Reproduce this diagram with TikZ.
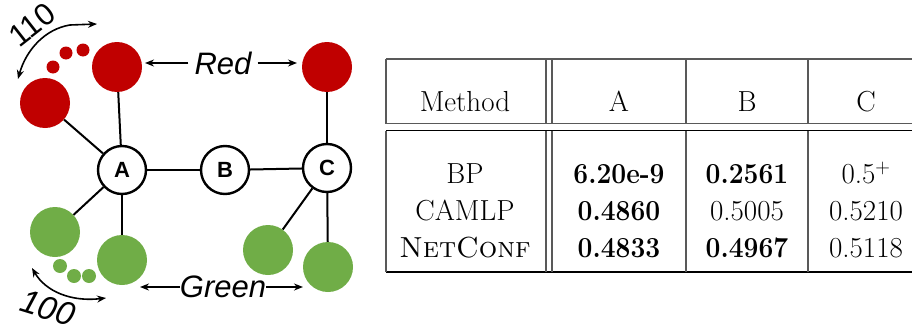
\documentclass[tikz,border=0pt]{standalone}
\usepackage{fontspec}
\newfontfamily\diagfont{Liberation Sans}
\usetikzlibrary{arrows.meta,calc}
\definecolor{nodered}{RGB}{192,0,0}
\definecolor{nodegreen}{RGB}{112,173,71}
\newcommand\boldval[1]{\scalebox{0.91}[1]{\textbf{#1}}}
\begin{document}
\begin{tikzpicture}[x=1pt,y=-1pt,
  hub/.style={circle,draw,line width=2.4pt,fill=white,minimum size=48pt,inner sep=0pt,
    font=\diagfont\bfseries\fontsize{22}{22}\selectfont},
  redball/.style={circle,fill=nodered,minimum size=50pt,inner sep=0pt},
  greenball/.style={circle,fill=nodegreen,minimum size=50pt,inner sep=0pt},
  reddot/.style={circle,fill=nodered,minimum size=13pt,inner sep=0pt},
  greendot/.style={circle,fill=nodegreen,minimum size=14pt,inner sep=0pt},
  link/.style={line width=2pt},
  pointer/.style={line width=1.6pt,-{Stealth[length=9pt,width=7pt]}},
  both/.style={line width=1.6pt,{Stealth[length=9pt,width=7pt]}-{Stealth[length=9pt,width=7pt]}},
  label/.style={inner sep=0pt,font=\diagfont\itshape\fontsize{31}{31}\selectfont},
  count/.style={inner sep=0pt,font=\diagfont\fontsize{31}{31}\selectfont},
  rulegray/.style={line width=1.5pt,black!65},
  ruleblack/.style={line width=1.3pt,black},
  cell/.style={anchor=base,inner sep=0pt,font=\fontsize{29}{29}\selectfont}]
\useasboundingbox (0,0) rectangle (912,332);

% ---------- graph ----------
\node[hub] (A) at (122,170) {A};
\node[hub] (B) at (225,170) {B};
\node[hub] (C) at (327,168) {C};

\node[redball] (RA) at (117,67) {};
\node[redball] (RL) at (45,103) {};
\node[redball] (RC) at (327,67) {};
\node[reddot] (rd1) at (53,67) {};
\node[reddot] (rd2) at (66,53) {};
\node[reddot] (rd3) at (83,50) {};

\node[greenball] (GL) at (55,232) {};
\node[greenball] (GA) at (122,260) {};
\node[greenball] (GC1) at (268,250) {};
\node[greenball] (GC2) at (328,267) {};
\node[greendot] (gd1) at (60,266) {};
\node[greendot] (gd2) at (74,276) {};
\node[greendot] (gd3) at (89,276) {};

\draw[link] (A) -- (B);
\draw[link] (B) -- (C);
\draw[link] (A) -- (RA);
\draw[link] (A) -- (RL);
\draw[link] (A) -- (GL);
\draw[link] (A) -- (GA);
\draw[link] (C) -- (RC);
\draw[link] (C) -- (GC1);
\draw[link] (C) -- (GC2);

% class labels with arrows
\node[label,inner xsep=6pt] (red) at (223,63) {Red};
\coordinate (redL) at (145,63);
\coordinate (redR) at (297,63);
\draw[pointer] (red.west) -- (redL);
\draw[pointer] (red.east) -- (redR);

\node[label] (green) at (223,287) {Green};
\coordinate (greenL) at (140,287);
\coordinate (greenR) at (303,287);
\draw[pointer] (green.west) -- (greenL);
\draw[pointer] (green.east) -- (greenR);

% neighbour counts
\node[count,rotate=38] (n110) at (32,25) {110};
\coordinate (u1) at (18,79);
\coordinate (u2) at (70,25);
\coordinate (u3) at (97,24);
\draw[both] (u1) .. controls (26,50) and (45,29) .. (u2) -- (u3);

\node[count,rotate=-17,font=\diagfont\itshape\fontsize{33}{33}\selectfont] (n100) at (48,308) {100};
\coordinate (l1) at (32,268);
\coordinate (l2) at (106,298);
\draw[both] (l1) .. controls (46,292) and (72,302) .. (l2);

% ---------- table ----------
\draw[rulegray] (386,59) -- (912,59);
\draw[rulegray] (386,123.5) -- (912,123.5);
\foreach \x in {386,546,552,686,808}
  \draw[rulegray] (\x,59) -- (\x,123.5);
\draw[ruleblack] (386,130.5) -- (912,130.5);
\draw[ruleblack] (386,272) -- (912,272);
\foreach \x in {386,546,552,686,808}
  \draw[rulegray] (\x,130.5) -- (\x,272);

\node[cell] (hm) at (465,111) {Method};
\node[cell] (ha) at (619,111) {A};
\node[cell] (hb) at (747,111) {B};
\node[cell] (hc) at (866,111) {C};

\node[cell] (m1) at (465,183) {BP};
\node[cell] (a1) at (619,183) {\boldval{6.20e-9}};
\node[cell] (b1) at (747,183) {\boldval{0.2561}};
\node[cell] (c1) at (866,183) {0.5\textsuperscript{+}};

\node[cell] (m2) at (465,220) {CAMLP};
\node[cell] (a2) at (619,220) {\boldval{0.4860}};
\node[cell] (b2) at (747,220) {0.5005};
\node[cell] (c2) at (866,220) {0.5210};

\node[cell] (m3) at (465,257) {\textsc{NetConf}};
\node[cell] (a3) at (619,257) {\boldval{0.4833}};
\node[cell] (b3) at (747,257) {\boldval{0.4967}};
\node[cell] (c3) at (866,257) {0.5118};
\end{tikzpicture}
\end{document}
